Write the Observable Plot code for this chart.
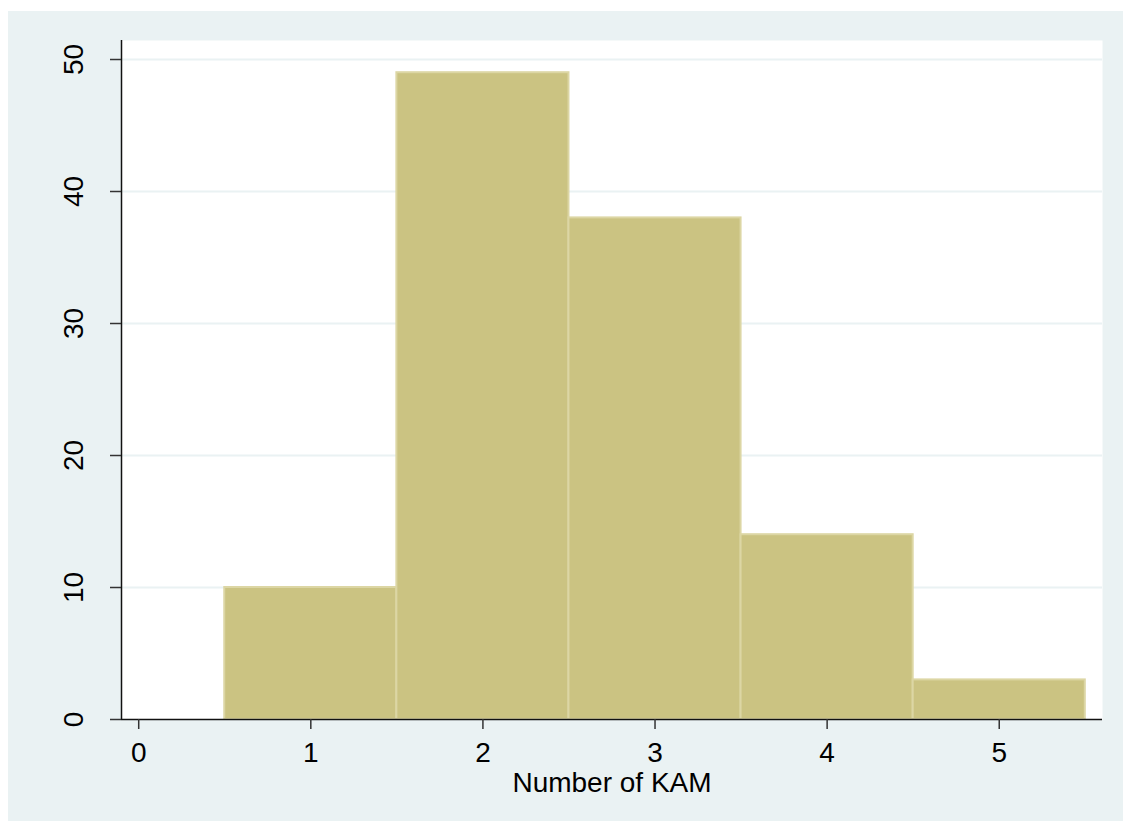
<!DOCTYPE html>
<html>
<head>
<meta charset="utf-8">
<script src="https://cdn.jsdelivr.net/npm/d3@7"></script>
<script src="https://cdn.jsdelivr.net/npm/@observablehq/plot@0.6"></script>
<style>
  html, body { margin: 0; padding: 0; background: #ffffff; }
  #chart { position: absolute; left: 8px; top: 11px; width: 1115px; height: 810px; background: #EAF2F3; }
  #chart svg { display: block; }
</style>
</head>
<body>
<div id="chart"></div>
<script>
// Histogram of Number of KAM (frequency)
const binLower = [0.5, 1.5, 2.5, 3.5, 4.5];
const binUpper = [1.5, 2.5, 3.5, 4.5, 5.5];
const counts = [10, 49, 38, 14, 3];
const xTicks = [0, 1, 2, 3, 4, 5];
const yTicks = [0, 10, 20, 30, 40, 50];
const xLabel = "Number of KAM";

const bars = counts.map((c, i) => ({x1: binLower[i], x2: binUpper[i], y: c}));
const xDomain = [-0.1, 5.6];

const chart = Plot.plot({
  width: 1115,
  height: 810,
  marginLeft: 113,
  marginRight: 21,
  marginTop: 29,
  marginBottom: 102,
  style: {background: "transparent", fontFamily: "'Liberation Sans', Arial, sans-serif", fontSize: "28px", color: "#000"},
  x: {domain: xDomain, axis: null},
  y: {domain: [0, 51.44], axis: null},
  marks: [
    Plot.frame({fill: "white", stroke: "none"}),
    Plot.ruleY(yTicks.filter(d => d > 0), {stroke: "#EAF2F3", strokeWidth: 2}),
    Plot.rectY(bars, {x1: "x1", x2: "x2", y: "y", fill: "#CBC382", stroke: "#DCD6A4", strokeWidth: 2}),
    Plot.ruleY([0], {stroke: "#111", strokeWidth: 1.5}),
    Plot.ruleX([xDomain[0]], {stroke: "#111", strokeWidth: 1.5}),
    Plot.axisY({ticks: yTicks, tickFormat: d3.format("d"), tickRotate: -90, tickSize: 11, tickPadding: 28, fontSize: 28, stroke: "#333", strokeWidth: 1.5, label: null}),
    Plot.axisX({ticks: xTicks, tickFormat: d3.format("d"), tickSize: 10, tickPadding: 13, fontSize: 28, stroke: "#333", strokeWidth: 1.5, label: null}),
    Plot.text([xLabel], {frameAnchor: "bottom", dy: 72, lineAnchor: "bottom", fontSize: 28, fill: "#000"})
  ]
});
document.getElementById("chart").appendChild(chart);
</script>
</body>
</html>
